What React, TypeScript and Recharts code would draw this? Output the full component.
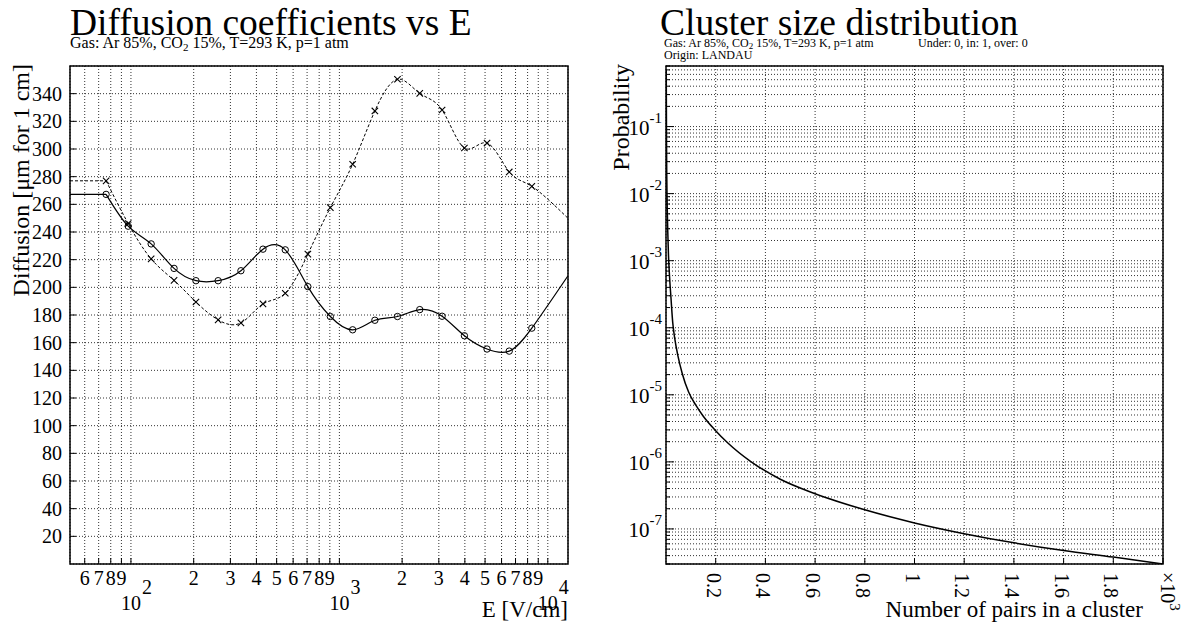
import React from 'react';
import { LineChart, Line, XAxis, YAxis, CartesianGrid } from 'recharts';

// ---- Diffusion coefficients vs E ----
const fieldE = [76, 97, 125, 161, 205, 262, 337, 430, 550, 706, 905, 1158, 1480, 1900, 2430, 3110, 3980, 5110, 6530, 8380];
// solid curve with circles
const diffLong = [267.2, 244.2, 231.4, 213.7, 204.8, 204.8, 212.0, 227.6, 227.1, 200.5, 178.9, 169.3, 176.2, 178.9, 183.9, 179.1, 165.0, 155.4, 153.9, 170.5];
// dashed curve with crosses
const diffTrans = [277.0, 246.1, 220.6, 205.0, 189.4, 176.5, 174.3, 188.0, 195.7, 224.0, 257.6, 289.0, 327.5, 350.4, 340.2, 328.2, 300.7, 304.3, 283.4, 273.0];
// where the splines leave the frame on the right
const edgeLong = 208.4;
const edgeTrans = 249.9;
const eRange = [51, 12500];
const eTicks = [60, 70, 80, 90, 100, 200, 300, 400, 500, 600, 700, 800, 900, 1000, 2000, 3000, 4000, 5000, 6000, 7000, 8000, 9000, 10000];
const diffTicks = [20, 40, 60, 80, 100, 120, 140, 160, 180, 200, 220, 240, 260, 280, 300, 320, 340];

// ---- Cluster size distribution ----
const pairs = [1, 2, 3, 4, 5, 7, 10, 14, 20, 27, 35, 48, 65, 91, 120, 150, 195, 250, 340, 460, 600, 800, 1000, 1200, 1400, 1600, 1800, 2000];
const prob = [0.7, 0.07, 0.02, 0.01, 0.006, 0.0028, 0.0012, 6e-4, 2.8e-4, 1.2e-4, 7e-5, 3.8e-5, 2.1e-5, 1.1e-5, 7e-6, 4.8e-6, 3.05e-6, 1.9e-6, 1.02e-6, 5.5e-7, 3.35e-7, 1.93e-7, 1.23e-7, 8.5e-8, 6.2e-8, 4.75e-8, 3.8e-8, 3.0e-8];
const probRange = [3e-8, 0.8];
const probDecades = [-8, -7, -6, -5, -4, -3, -2, -1];
const pairTicks = [200, 400, 600, 800, 1000, 1200, 1400, 1600, 1800, 2000];
const pairLabels = ['0.2', '0.4', '0.6', '0.8', '1', '1.2', '1.4', '1.6', '1.8', ''];

const FONT = '"Liberation Serif", "Times New Roman", serif';

const longData = fieldE.map((E, i) => ({ E, v: diffLong[i], mark: true })).concat([{ E: eRange[1], v: edgeLong, mark: false }]);
const transData = fieldE.map((E, i) => ({ E, v: diffTrans[i], mark: true })).concat([{ E: eRange[1], v: edgeTrans, mark: false }]);
const longFlat = [{ E: eRange[0], v: diffLong[0] }, { E: fieldE[0], v: diffLong[0] }];
const transFlat = [{ E: eRange[0], v: diffTrans[0] }, { E: fieldE[0], v: diffTrans[0] }];
const clusterData = pairs.map((n, i) => ({ n, p: prob[i] }));

const probTicks: number[] = [];
probDecades.forEach((d) => {
  for (let m = 1; m <= 9; m++) {
    const v = m * Math.pow(10, d);
    if (v >= probRange[0] && v <= probRange[1]) probTicks.push(v);
  }
});

const CircleDot = (p: any) =>
  p.payload && p.payload.mark ? (
    <circle key={'c' + p.index} cx={p.cx} cy={p.cy} r={3.2} fill="#fff" fillOpacity={0} stroke="#000" strokeWidth={1} />
  ) : (
    <g key={'c' + p.index} />
  );

const CrossDot = (p: any) => {
  if (!p.payload || !p.payload.mark) return <g key={'x' + p.index} />;
  const s = 3.2;
  return (
    <path
      key={'x' + p.index}
      d={`M${p.cx - s},${p.cy - s}L${p.cx + s},${p.cy + s}M${p.cx - s},${p.cy + s}L${p.cx + s},${p.cy - s}`}
      stroke="#000"
      strokeWidth={1.1}
    />
  );
};

const ETick = (props: any) => {
  const { x, y, payload } = props;
  const v = payload.value;
  const exp = Math.floor(Math.log10(v) + 1e-9);
  const mant = Math.round(v / Math.pow(10, exp));
  return (
    <g>
      <line x1={x} y1={y} x2={x} y2={y - 6} stroke="#000" />
      {mant === 1 ? (
        <g fontFamily={FONT} fontSize={20} fill="#000">
          <text x={x} y={y + 46} textAnchor="middle">10</text>
          <text x={x + 11} y={y + 30}>{exp}</text>
        </g>
      ) : (
        <text x={x} y={y + 21} textAnchor="middle" fontFamily={FONT} fontSize={20} fill="#000">
          {mant}
        </text>
      )}
    </g>
  );
};

const DiffTick = (props: any) => {
  const { x, y, payload } = props;
  return (
    <g>
      <line x1={x} y1={y} x2={x + 6} y2={y} stroke="#000" />
      <text x={x - 8} y={y + 7} textAnchor="end" fontFamily={FONT} fontSize={20} fill="#000">
        {payload.value}
      </text>
    </g>
  );
};

const ProbTick = (props: any) => {
  const { x, y, payload } = props;
  const lg = Math.log10(payload.value);
  const major = Math.abs(lg - Math.round(lg)) < 1e-6;
  return (
    <g>
      <line x1={x} y1={y} x2={x + (major ? 8 : 4)} y2={y} stroke="#000" />
      {major && Math.round(lg) >= -7 ? (
        <text x={x - 4} y={y + 8} textAnchor="end" fontFamily={FONT} fontSize={21} fill="#000">
          10<tspan dy={-12} fontSize={15}>{Math.round(lg)}</tspan>
        </text>
      ) : null}
    </g>
  );
};

const PairTick = (props: any) => {
  const { x, y, index } = props;
  const label = pairLabels[index];
  return (
    <g>
      <line x1={x} y1={y} x2={x} y2={y - 6} stroke="#000" />
      {label ? (
        <text transform={`translate(${x - 9},${y + 9}) rotate(90)`} fontFamily={FONT} fontSize={20} fill="#000">
          {label}
        </text>
      ) : (
        <text transform={`translate(${x - 2},${y + 8}) rotate(90)`} fontFamily={FONT} fontSize={20} fill="#000">
          ×10<tspan dy={-9} fontSize={15}>3</tspan>
        </text>
      )}
    </g>
  );
};

const gridStyle = { stroke: '#333', strokeDasharray: '1 2', strokeWidth: 1 };

export default function App() {
  return (
    <div style={{ position: 'absolute', left: 0, top: 0, width: 1192, height: 628, background: '#fff' }}>
      <div style={{ position: 'absolute', left: 0, top: 0 }}>
        <LineChart width={600} height={628} margin={{ top: 66, right: 32, bottom: 0, left: 10 }}>
          <CartesianGrid {...gridStyle} />
          <XAxis
            dataKey="E"
            type="number"
            scale="log"
            domain={eRange}
            allowDataOverflow
            ticks={eTicks}
            interval={0}
            height={64}
            tickSize={0}
            tickMargin={0}
            axisLine={false}
            tickLine={false}
            tick={<ETick />}
          />
          <YAxis
            type="number"
            domain={[0, 360]}
            allowDataOverflow
            ticks={diffTicks}
            interval={0}
            width={60}
            tickSize={0}
            tickMargin={0}
            axisLine={false}
            tickLine={false}
            tick={<DiffTick />}
          />
          <Line data={longFlat} dataKey="v" type="linear" stroke="#000" strokeWidth={1.2} dot={false} isAnimationActive={false} />
          <Line data={transFlat} dataKey="v" type="linear" stroke="#000" strokeWidth={1} strokeDasharray="3 2" dot={false} isAnimationActive={false} />
          <Line data={longData} dataKey="v" type="natural" stroke="#000" strokeWidth={1.2} dot={CircleDot} isAnimationActive={false} />
          <Line data={transData} dataKey="v" type="natural" stroke="#000" strokeWidth={1} strokeDasharray="3 2" dot={CrossDot} isAnimationActive={false} />
        </LineChart>
      </div>
      <div style={{ position: 'absolute', left: 596, top: 0 }}>
        <LineChart width={596} height={628} data={clusterData} margin={{ top: 66, right: 29, bottom: 0, left: 10 }}>
          <CartesianGrid {...gridStyle} />
          <XAxis
            dataKey="n"
            type="number"
            domain={[0, 2000]}
            allowDataOverflow
            ticks={pairTicks}
            interval={0}
            height={64}
            tickSize={0}
            tickMargin={0}
            axisLine={false}
            tickLine={false}
            tick={<PairTick />}
          />
          <YAxis
            type="number"
            scale="log"
            domain={probRange}
            allowDataOverflow
            ticks={probTicks}
            interval={0}
            width={60}
            tickSize={0}
            tickMargin={0}
            axisLine={false}
            tickLine={false}
            tick={<ProbTick />}
          />
          <Line dataKey="p" type="monotone" stroke="#000" strokeWidth={1.5} dot={false} isAnimationActive={false} />
        </LineChart>
      </div>
      <svg width={1192} height={628} style={{ position: 'absolute', left: 0, top: 0, pointerEvents: 'none' }} fontFamily={FONT} fill="#000">
        <rect x={70} y={66} width={498} height={498} fill="none" stroke="#000" strokeWidth={1.5} />
        <rect x={666} y={66} width={497} height={498} fill="none" stroke="#000" strokeWidth={1.5} />
        <text x={70} y={35} fontSize={37.5}>Diffusion coefficients vs E</text>
        <text x={70} y={48} fontSize={16}>
          Gas: Ar 85%, CO<tspan dy={3} fontSize={11}>2</tspan><tspan dy={-3}> 15%, T=293 K, p=1 atm</tspan>
        </text>
        <text x={660} y={35} fontSize={37.5}>Cluster size distribution</text>
        <text x={664} y={47} fontSize={12}>
          Gas: Ar 85%, CO<tspan dy={2} fontSize={9}>2</tspan><tspan dy={-2}> 15%, T=293 K, p=1 atm</tspan>
        </text>
        <text x={918} y={47} fontSize={12}>Under: 0, in: 1, over: 0</text>
        <text x={664} y={59} fontSize={12}>Origin: LANDAU</text>
        <text transform="translate(29,64) rotate(-90)" textAnchor="end" fontSize={24}>Diffusion [μm for 1 cm]</text>
        <text x={568} y={617} textAnchor="end" fontSize={23}>E [V/cm]</text>
        <text transform="translate(629,64) rotate(-90)" textAnchor="end" fontSize={24}>Probability</text>
        <text x={1143} y={617} textAnchor="end" fontSize={23}>Number of pairs in a cluster</text>
      </svg>
    </div>
  );
}
